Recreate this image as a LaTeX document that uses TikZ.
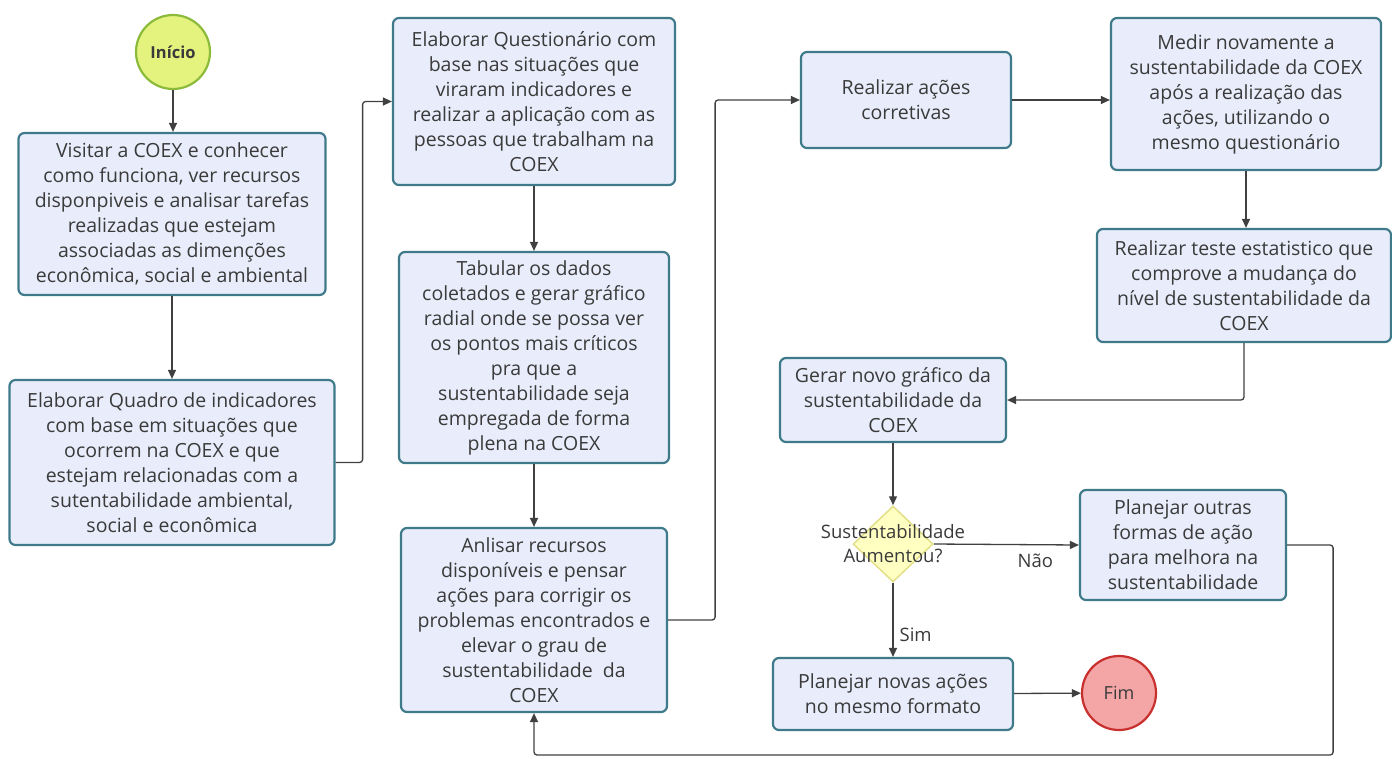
\documentclass[tikz,border=0pt]{standalone}
\usepackage{fontspec}
\setmainfont{Open Sans}
\usetikzlibrary{shapes.geometric,arrows.meta,calc}
\definecolor{boxfill}{HTML}{E9EDFB}
\definecolor{boxline}{HTML}{3F7A8A}
\definecolor{txt}{HTML}{3A3A3A}
\definecolor{linec}{HTML}{404040}
\definecolor{startfill}{HTML}{E4F27E}
\definecolor{startline}{HTML}{8CBB3C}
\definecolor{endfill}{HTML}{F4A5A5}
\definecolor{endline}{HTML}{C8302E}
\definecolor{decfill}{HTML}{FFFFC2}
\definecolor{decline}{HTML}{E2DF88}
\begin{document}
\begin{tikzpicture}[x=1pt,y=-1pt,
  proc/.style={draw=boxline, line width=2.2pt, fill=boxfill, rounded corners=6pt,
    align=center, text=txt, inner sep=2pt, font=\fontsize{19.5}{25}\selectfont},
  term/.style={circle, line width=2.2pt, text=txt, inner sep=0pt,
    minimum size=74pt, font=\fontsize{18}{22}\selectfont},
  conn/.style={draw=linec, line width=1.3pt, rounded corners=3pt,
    -{Triangle[length=9pt,width=8pt]}},
  lbl/.style={text=txt, font=\fontsize{18.5}{22}\selectfont, inner sep=0pt}]
\useasboundingbox (0,0) rectangle (1392,758);

% terminals
\node[term, fill=startfill, draw=startline, font=\fontsize{16.5}{20}\selectfont\bfseries] (inicio) at (173,52) {Início};
\node[term, fill=endfill, draw=endline] (fim) at (1119,693) {Fim};

% process steps
\node[proc, minimum width=307pt, minimum height=162pt] (visitar) at (172,214)
  {Visitar a COEX e conhecer\\como funciona, ver recursos\\disponpiveis e analisar tarefas\\realizadas que estejam\\associadas as dimenções\\econômica, social e ambiental};
\node[proc, minimum width=325pt, minimum height=165pt] (quadro) at (172,462.5)
  {Elaborar Quadro de indicadores\\com base em situações que\\ocorrem na COEX e que\\estejam relacionadas com a\\sutentabilidade ambiental,\\social e econômica};
\node[proc, minimum width=282pt, minimum height=167pt] (quest) at (534,101.5)
  {Elaborar Questionário com\\base nas situações que\\viraram indicadores e\\realizar a aplicação com as\\pessoas que trabalham na\\COEX};
\node[proc, minimum width=270pt, minimum height=211pt] (tabular) at (534,357.5)
  {Tabular os dados\\coletados e gerar gráfico\\radial onde se possa ver\\os pontos mais críticos\\pra que a\\sustentabilidade seja\\empregada de forma\\plena na COEX};
\node[proc, minimum width=266pt, minimum height=184pt] (analisar) at (534,620)
  {Anlisar recursos\\disponíveis e pensar\\ações para corrigir os\\problemas encontrados e\\elevar o grau de\\sustentabilidade\ \ da\\COEX};
\node[proc, minimum width=210pt, minimum height=96pt] (corretivas) at (906,100)
  {Realizar ações\\corretivas};
\node[proc, minimum width=270pt, minimum height=152pt] (medir) at (1246,94)
  {Medir novamente a\\sustentabilidade da COEX\\após a realização das\\ações, utilizando o\\mesmo questionário};
\node[proc, minimum width=294pt, minimum height=113pt] (teste) at (1244,285.5)
  {Realizar teste estatistico que\\comprove a mudança do\\nível de sustentabilidade da\\COEX};
\node[proc, minimum width=226pt, minimum height=84pt] (gerar) at (893,400)
  {Gerar novo gráfico da\\sustentabilidade da\\COEX};
\node[proc, minimum width=206pt, minimum height=110pt] (outras) at (1183,545)
  {Planejar outras\\formas de ação\\para melhora na\\sustentabilidade};
\node[proc, minimum width=240pt, minimum height=72pt] (novas) at (893,694)
  {Planejar novas ações\\no mesmo formato};

% decision
\node[diamond, fill=decfill, draw=decline, line width=1.5pt, minimum width=80pt,
  minimum height=76pt, inner sep=0pt] (dec) at (893,544) {};
\node[lbl, align=center, font=\fontsize{18.5}{24}\selectfont] (declbl) at (dec.center)
  {Sustentabilidade\\Aumentou?};

% connectors
\draw[conn] (inicio) -- (inicio |- visitar.north);
\draw[conn] (visitar.south) -- (visitar.south |- quadro.north);
\draw[conn] (quadro.east) -- ++(27,0) |- (quest.west);
\draw[conn] (quest.south) -- (quest.south |- tabular.north);
\draw[conn] (tabular.south) -- (tabular.south |- analisar.north);
\draw[conn] (analisar.east) -- ++(47,0) |- (corretivas.west);
\draw[conn] (corretivas.east) -- (corretivas.east -| medir.west);
\draw[conn] (medir.south) -- (medir.south |- teste.north);
\draw[conn] (teste.south) |- (gerar.east);
\draw[conn] (gerar.south) -- (dec.north);
\draw[conn] (dec.east) -- node[lbl, pos=0.7, below=9pt] (nao) {Não} (outras.west);
\draw[conn] (dec.south) -- node[lbl, pos=0.7, right=6pt] (sim) {Sim} (novas.north);
\draw[conn] (novas) -- (fim);
\draw[conn] (outras.east) -- ++(46,0) |- (534,755) -- (analisar.south);
\end{tikzpicture}
\end{document}
